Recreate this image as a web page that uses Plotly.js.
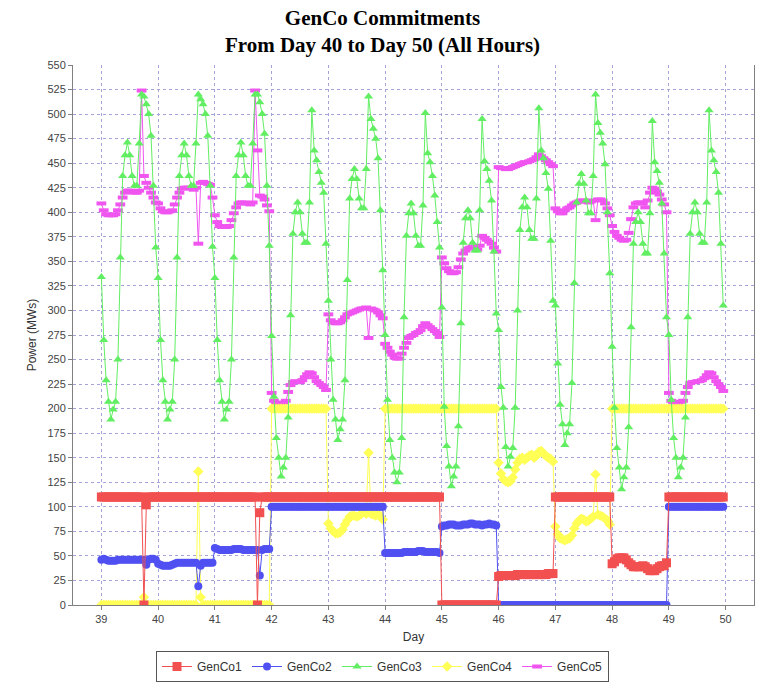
<!DOCTYPE html>
<html>
<head>
<meta charset="utf-8">
<script src="https://cdn.plot.ly/plotly-3.0.1.min.js"></script>
<style>
html,body{margin:0;padding:0;background:#ffffff;}
#chart{width:765px;height:684px;}
</style>
</head>
<body>
<div id="chart"></div>
<script>
// ---- data (one row per day, 24 hourly values, days 39..49 on the axis) ----
const startDay = 39;
const hoursPerDay = 24;
const xTicks = [39, 40, 41, 42, 43, 44, 45, 46, 47, 48, 49, 50];
const seriesNames = ['GenCo1', 'GenCo2', 'GenCo3', 'GenCo4', 'GenCo5'];

const genco1 = [
  110,110,110,110,110,110,110,110,110,110,110,110,110,110,110,110,110,110,0,102,110,110,110,110,
  110,110,110,110,110,110,110,110,110,110,110,110,110,110,110,110,110,110,110,110,110,110,110,110,
  110,110,110,110,110,110,110,110,110,110,110,110,110,110,110,110,110,110,0,94,110,110,110,110,
  110,110,110,110,110,110,110,110,110,110,110,110,110,110,110,110,110,110,110,110,110,110,110,110,
  110,110,110,110,110,110,110,110,110,110,110,110,110,110,110,110,110,110,110,110,110,110,110,110,
  110,110,110,110,110,110,110,110,110,110,110,110,110,110,110,110,110,110,110,110,110,110,110,110,
  0,0,0,0,0,0,0,0,0,0,0,0,0,0,0,0,0,0,0,0,0,0,0,0,
  29,30,30,30,30,30,30,30,31,31,31,31,31,31,31,31,31,31,31,31,31,32,32,32,
  110,110,110,110,110,110,110,110,110,110,110,110,110,110,110,110,110,110,110,110,110,110,110,110,
  42,44,47,48,48,48,46,43,41,39,39,39,39,40,39,37,35,35,35,37,39,40,40,43,
  110,110,110,110,110,110,110,110,110,110,110,110,110,110,110,110,110,110,110,110,110,110,110,110
];

const genco2 = [
  46,47,46,45,45,45,45,46,46,46,46,46,46,46,46,46,46,46,46,41,46,47,47,46,
  42,41,40,40,40,40,41,42,43,43,43,43,43,43,43,43,43,19,40,43,43,43,43,43,
  58,57,56,56,56,56,56,56,57,57,57,57,56,56,56,56,56,56,56,30,56,57,57,57,
  100,100,100,100,100,100,100,100,100,100,100,100,100,100,100,100,100,100,100,100,100,100,100,100,
  100,100,100,100,100,100,100,100,100,100,100,100,100,100,100,100,100,100,100,100,100,100,100,100,
  53,53,53,53,53,53,53,53,54,54,54,54,54,54,55,55,55,54,54,54,54,54,54,53,
  80,81,81,82,82,82,81,81,81,82,82,82,83,83,82,82,82,81,82,82,83,82,82,81,
  0,0,0,0,0,0,0,0,0,0,0,0,0,0,0,0,0,0,0,0,0,0,0,0,
  0,0,0,0,0,0,0,0,0,0,0,0,0,0,0,0,0,0,0,0,0,0,0,0,
  0,0,0,0,0,0,0,0,0,0,0,0,0,0,0,0,0,0,0,0,0,0,0,0,
  100,100,100,100,100,100,100,100,100,100,100,100,100,100,100,100,100,100,100,100,100,100,100,100
];

const genco3 = [
  334,270,229,207,189,199,207,250,354,437,458,471,458,437,427,427,470,520,518,510,500,478,427,364,
  333,270,229,207,189,199,207,250,354,437,458,470,458,437,427,427,470,520,515,510,500,478,427,365,
  333,270,229,207,189,199,207,250,354,437,458,471,458,437,427,427,470,520,520,512,500,480,427,366,
  274,212,170,150,131,140,150,191,295,378,400,410,400,378,369,369,410,504,463,453,441,430,420,368,
  310,250,209,189,168,179,189,229,331,414,434,444,434,414,404,404,444,518,495,485,475,455,402,341,
  275,209,168,150,135,125,135,170,293,376,399,409,399,376,366,366,407,501,460,451,437,417,390,364,
  303,202,162,141,121,131,141,182,287,369,394,402,394,369,361,361,402,495,452,444,432,412,360,297,
  280,222,201,161,141,151,160,201,300,382,405,415,405,382,373,373,414,506,463,455,440,424,371,310,
  305,246,204,184,163,175,184,226,328,410,429,439,429,412,399,399,437,520,491,481,470,449,400,338,
  263,201,160,140,118,130,140,181,283,368,390,400,390,368,358,358,399,493,451,442,430,409,358,293,
  275,209,170,150,130,140,150,191,293,378,400,410,400,378,369,369,410,504,463,453,441,420,368,305
];

const genco4 = [
  0,0,0,0,0,0,0,0,0,0,0,0,0,0,0,0,0,0,8,0,0,0,0,0,
  0,0,0,0,0,0,0,0,0,0,0,0,0,0,0,0,0,136,8,0,0,0,0,0,
  0,0,0,0,0,0,0,0,0,0,0,0,0,0,0,0,0,0,0,0,0,0,0,0,
  200,200,200,200,200,200,200,200,200,200,200,200,200,200,200,200,200,200,200,200,200,200,200,200,
  83,78,75,73,73,74,77,82,86,90,91,91,90,91,93,95,93,155,93,92,91,93,90,87,
  200,200,200,200,200,200,200,200,200,200,200,200,200,200,200,200,200,200,200,200,200,200,200,200,
  200,200,200,200,200,200,200,200,200,200,200,200,200,200,200,200,200,200,200,200,200,200,200,200,
  145,134,128,126,125,126,130,138,145,149,150,148,150,152,153,150,152,156,157,154,152,150,149,146,
  80,72,68,67,66,67,68,71,78,83,86,88,87,85,86,88,90,133,92,91,90,88,86,82,
  200,200,200,200,200,200,200,200,200,200,200,200,200,200,200,200,200,200,200,200,200,200,200,200,
  200,200,200,200,200,200,200,200,200,200,200,200,200,200,200,200,200,200,200,200,200,200,200,200
];

const genco5 = [
  409,402,398,397,397,397,398,402,408,415,420,422,422,421,420,420,422,524,437,430,425,420,415,410,
  409,404,401,400,400,401,402,408,415,420,424,425,425,425,424,423,425,368,430,431,430,429,428,415,
  397,390,386,385,385,385,386,392,399,405,409,410,410,409,409,408,410,524,463,417,416,413,407,401,
  216,208,206,205,205,206,208,217,224,227,228,227,227,229,232,235,237,236,232,228,226,224,222,219,
  296,290,288,287,287,288,290,293,296,297,298,299,300,301,302,302,303,272,302,301,300,298,295,292,
  266,262,258,255,252,251,251,256,262,267,272,274,275,277,278,280,284,287,285,283,281,279,277,273,
  354,348,343,340,338,338,339,344,352,358,361,363,364,365,364,362,366,376,374,372,370,368,364,360,
  446,445,445,444,444,445,446,447,448,449,450,451,451,452,453,454,456,459,457,455,453,451,449,447,
  404,401,399,399,402,404,405,407,409,410,411,412,412,411,410,411,412,392,413,413,412,409,404,397,
  386,380,376,374,372,371,372,379,393,405,409,410,410,409,405,412,420,425,424,421,418,413,408,400,
  216,208,206,206,206,207,208,216,222,226,227,227,228,228,229,231,234,237,236,232,228,225,222,218
];

const seriesValues = [genco1, genco2, genco3, genco4, genco5];

// ---- styles ----
const seriesStyles = [
  {color: '#F25050', symbol: 'square',      size: 9},
  {color: '#5050F2', symbol: 'circle',      size: 8},
  {color: '#62EE62', symbol: 'triangle-up', size: 8},
  {color: '#FFFF55', symbol: 'diamond',     size: 8},
  {color: '#F055F0', symbol: 'line-ew',     size: 7, lineWidth: 4}
];

function hourPositions(vals) {
  return vals.map((_, i) => startDay + i / hoursPerDay);
}

const traces = [];
// JFreeChart draws the last series first, so the first series ends on top
for (let k = seriesNames.length - 1; k >= 0; k--) {
  const st = seriesStyles[k];
  const marker = {symbol: st.symbol, size: st.size, color: st.color};
  if (st.lineWidth) marker.line = {color: st.color, width: st.lineWidth};
  else marker.line = {width: 0};
  traces.push({
    type: 'scatter',
    mode: 'lines+markers',
    name: seriesNames[k],
    x: hourPositions(seriesValues[k]),
    y: seriesValues[k],
    line: {color: st.color, width: 1},
    marker: marker,
    legendrank: k + 1
  });
}

const axisFont = {family: 'Liberation Sans, Arial, sans-serif', size: 11, color: '#444444'};
const gridColor = '#a4a4d8';

const layout = {
  width: 765,
  height: 684,
  margin: {l: 73, r: 11, t: 65, b: 79},
  paper_bgcolor: '#ffffff',
  plot_bgcolor: '#ffffff',
  title: {
    text: '<b>GenCo Commitments</b><br><b>From Day 40 to Day 50 (All Hours)</b>',
    font: {family: 'Liberation Serif, Times New Roman, serif', size: 21, color: '#000000'},
    x: 0.5, xref: 'container', xanchor: 'center',
    y: 1 - 25 / 684, yref: 'container', yanchor: 'top'
  },
  xaxis: {
    range: [38.5, 50.5],
    tickvals: xTicks,
    ticktext: xTicks.map(String),
    showgrid: true, gridcolor: gridColor, griddash: 'dot', gridwidth: 1,
    zeroline: false,
    showline: true, linecolor: '#808080', linewidth: 1,
    ticks: 'outside', ticklen: 4, tickcolor: '#808080',
    tickfont: axisFont,
    title: {text: 'Day', font: {family: 'Liberation Sans, Arial, sans-serif', size: 12, color: '#333333'}, standoff: 8}
  },
  yaxis: {
    range: [0, 550],
    tick0: 0, dtick: 25,
    showgrid: true, gridcolor: gridColor, griddash: 'dot', gridwidth: 1,
    zeroline: false,
    showline: true, mirror: true, linecolor: '#808080', linewidth: 1,
    ticks: 'outside', ticklen: 4, tickcolor: '#808080',
    tickfont: axisFont,
    title: {text: 'Power (MWs)', font: {family: 'Liberation Sans, Arial, sans-serif', size: 12, color: '#333333'}, standoff: 8}
  },
  showlegend: true,
  legend: {
    orientation: 'h',
    x: (382.5 - 73) / 681, xref: 'paper', xanchor: 'center',
    y: (684 - 651) / 684, yref: 'container', yanchor: 'top',
    bordercolor: '#555555', borderwidth: 1,
    bgcolor: '#ffffff',
    font: {family: 'Liberation Sans, Arial, sans-serif', size: 12, color: '#333333'},
    itemwidth: 30,
    traceorder: 'normal'
  }
};

Plotly.newPlot('chart', traces, layout, {displayModeBar: false, staticPlot: true});
</script>
</body>
</html>
